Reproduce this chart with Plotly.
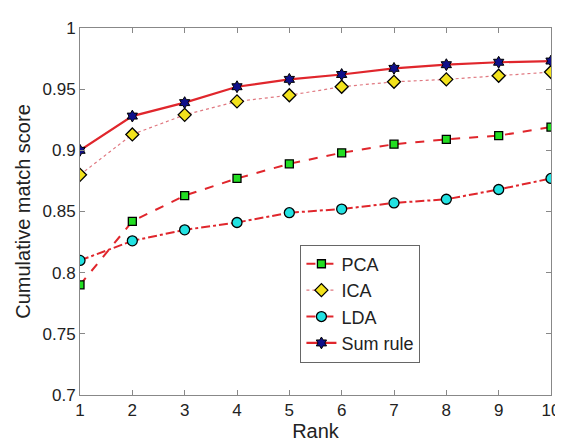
import plotly.graph_objects as go

rank = [1, 2, 3, 4, 5, 6, 7, 8, 9, 10]
pca = [0.790, 0.842, 0.863, 0.877, 0.889, 0.898, 0.905, 0.909, 0.912, 0.919]
ica = [0.880, 0.913, 0.929, 0.940, 0.945, 0.952, 0.956, 0.958, 0.961, 0.964]
lda = [0.810, 0.826, 0.835, 0.841, 0.849, 0.852, 0.857, 0.860, 0.868, 0.877]
sumrule = [0.900, 0.928, 0.939, 0.952, 0.958, 0.962, 0.967, 0.970, 0.972, 0.973]

y_ticks = [0.7, 0.75, 0.8, 0.85, 0.9, 0.95, 1.0]
y_ticklabels = ["0.7", "0.75", "0.8", "0.85", "0.9", "0.95", "1"]

red = "#e0262c"
fig = go.Figure()
fig.add_trace(go.Scatter(x=rank, y=pca, name="PCA", mode="lines+markers",
                         line=dict(color=red, width=2, dash="dash"),
                         marker=dict(symbol="square", size=8, color="#22dd22",
                                     line=dict(color="black", width=1.3))))
fig.add_trace(go.Scatter(x=rank, y=ica, name="ICA", mode="lines+markers",
                         line=dict(color="#e07880", width=1.2, dash="dot"),
                         marker=dict(symbol="diamond", size=10, color="#f2e21c",
                                     line=dict(color="black", width=1.3))))
fig.add_trace(go.Scatter(x=rank, y=lda, name="LDA", mode="lines+markers",
                         line=dict(color=red, width=2, dash="dashdot"),
                         marker=dict(symbol="circle", size=10, color="#22e2e2",
                                     line=dict(color="black", width=1.3))))
fig.add_trace(go.Scatter(x=rank, y=sumrule, name="Sum rule", mode="lines+markers",
                         line=dict(color=red, width=2.2),
                         marker=dict(symbol="hexagram", size=9, color="#10108a",
                                     line=dict(color="black", width=1))))

font = "Liberation Sans, Arial, sans-serif"
fig.update_layout(
    width=563, height=441,
    margin=dict(l=72, r=11, t=16, b=47),
    paper_bgcolor="white", plot_bgcolor="white",
    font=dict(family=font, size=17, color="#222"),
    showlegend=True,
    legend=dict(x=0.468, y=0.41, xanchor="left", yanchor="top",
                bordercolor="#666", borderwidth=1, bgcolor="white",
                font=dict(size=18), tracegroupgap=0, itemwidth=30),
    xaxis=dict(range=[1, 10], tickvals=rank, ticks="inside", ticklen=5,
               tickcolor="#888", showline=True, linecolor="#888", linewidth=1,
               mirror="ticks", showgrid=False, zeroline=False,
               title=dict(text="Rank", standoff=4)),
    yaxis=dict(range=[0.7, 1.0], tickvals=y_ticks, ticktext=y_ticklabels,
               ticks="inside", ticklen=5, tickcolor="#888", showline=True,
               linecolor="#888", linewidth=1, mirror="ticks", showgrid=False,
               zeroline=False, title=dict(text="Cumulative match score", standoff=6)),
)
fig.write_html("out.html")
